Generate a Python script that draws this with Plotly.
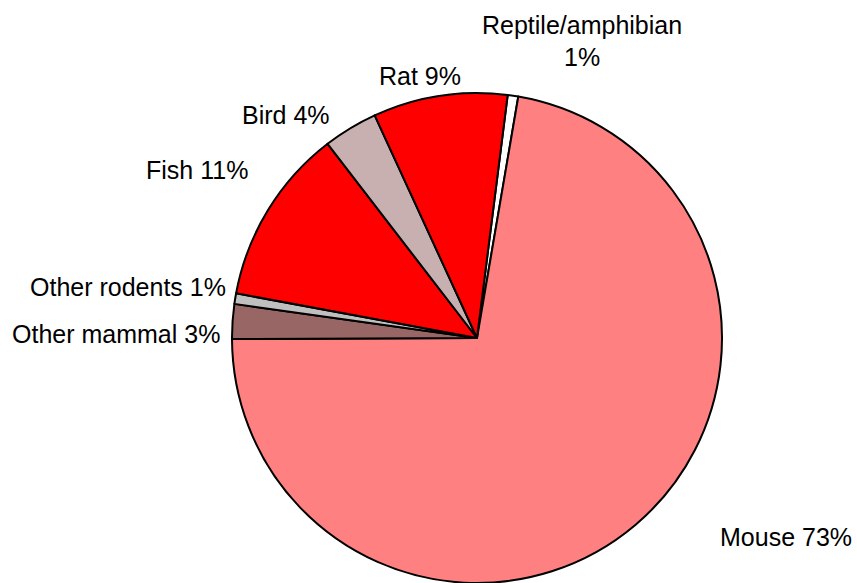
import plotly.graph_objects as go

W, H = 857, 583

labels = ["Reptile/amphibian", "Mouse", "Other mammal", "Other rodents", "Fish", "Bird", "Rat"]
values = [0.7, 72.6, 2.3, 0.7, 11.7, 3.6, 8.9]
pct_text = ["1%", "73%", "3%", "1%", "11%", "4%", "9%"]
colors = ["#FFFFFF", "#FF8080", "#996666", "#C0C0C0", "#FF0000", "#C8B0B0", "#FF0000"]

fig = go.Figure(go.Pie(
    labels=labels, values=values, sort=False, direction="clockwise",
    rotation=7.2, textinfo="none", hoverinfo="label+percent",
    marker=dict(colors=colors, line=dict(color="#000000", width=2)),
    domain=dict(x=[(477 - 245) / W, (477 + 245) / W], y=[0, 490 / H]),
    showlegend=False,
))

def px(x, y):
    return x / W, 1 - y / H

# label placements (pixel positions) per slice
ann_pos = {
    "Mouse": (718, 537, "left"),
    "Other mammal": (222, 334, "right"),
    "Other rodents": (228, 287, "right"),
    "Fish": (197, 170, "center"),
    "Bird": (286, 115, "center"),
    "Rat": (420, 76, "center"),
}
font = dict(family="Liberation Sans, Arial, sans-serif", size=25, color="#000000")
anns = []
for lab, pct in zip(labels, pct_text):
    if lab == "Reptile/amphibian":
        for txt, yy in ((lab, 25), (pct, 57)):
            x, y = px(582, yy)
            anns.append(dict(x=x, y=y, xref="paper", yref="paper", text=txt,
                             showarrow=False, font=font, xanchor="center", yanchor="middle"))
        continue
    xx, yy, anc = ann_pos[lab]
    x, y = px(xx, yy)
    anns.append(dict(x=x, y=y, xref="paper", yref="paper", text=f"{lab} {pct}",
                     showarrow=False, font=font, xanchor=anc, yanchor="middle"))

fig.update_layout(
    width=W, height=H, margin=dict(l=0, r=0, t=0, b=0),
    paper_bgcolor="#FFFFFF", plot_bgcolor="#FFFFFF",
    annotations=anns, font=font,
)
fig.write_html("out.html", config={"displayModeBar": False},
               post_script="document.body.style.margin='0';document.body.style.overflow='hidden';")
